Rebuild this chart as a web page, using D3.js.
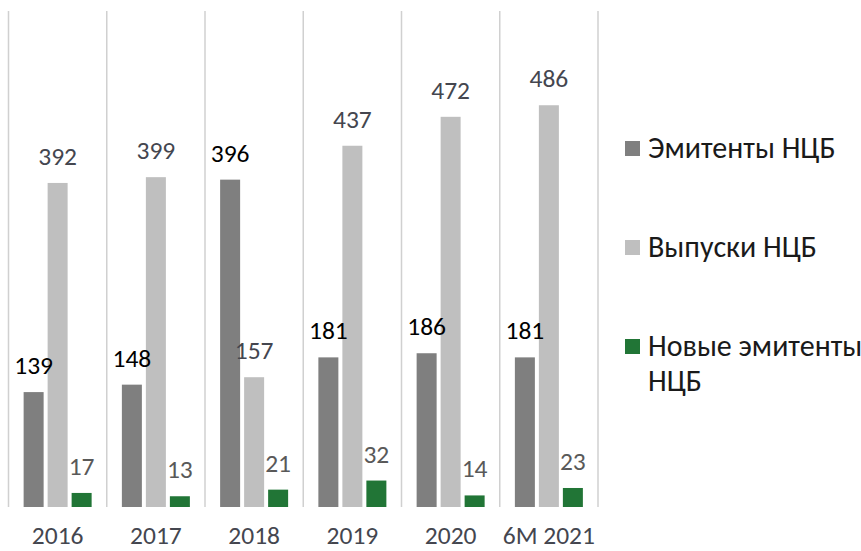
<!DOCTYPE html>
<html><head><meta charset="utf-8">
<script src="https://cdn.jsdelivr.net/npm/d3@7"></script>
<style>body{margin:0;background:#fff}svg{display:block}</style>
</head><body>
<svg id="c" width="861" height="551"></svg>
<script>
const categories = ["2016","2017","2018","2019","2020","6М 2021"];
const seriesNames = ["Эмитенты НЦБ","Выпуски НЦБ","Новые эмитенты НЦБ"];
const emitents = [139,148,396,181,186,181];
const issues = [392,399,157,437,472,486];
const newEmitents = [17,13,21,32,14,23];
const seriesValues = [emitents, issues, newEmitents];
const colors = ["#7f7f7f","#bfbfbf","#217536"];
const labelColors = ["#000000","#44464f","#595959"];

const svg = d3.select("#c");
const FONT = "Carlito, Calibri, Lato, sans-serif";
const x = d3.scaleBand().domain(categories).range([8.5, 598]).paddingInner(0).paddingOuter(0);
const xs = d3.scaleBand().domain([0,1,2]).range([0, 68]).paddingInner(4/24);
const y = d3.scaleLinear().domain([0, 600]).range([507, 11]);

// gridlines at band boundaries
const bounds = categories.map(c => x(c)).concat([x(categories[categories.length-1]) + x.bandwidth()]);
svg.append("g").selectAll("line").data(bounds).join("line")
  .attr("x1", d => d).attr("x2", d => d).attr("y1", y(600)).attr("y2", y(0))
  .attr("stroke", "#d0d0d0").attr("stroke-width", 1.5);

const groupOffset = (x.bandwidth() - 68) / 2;
const barG = svg.append("g");
const labG = svg.append("g");
seriesValues.forEach((vals, si) => {
  barG.append("g").selectAll("rect").data(vals).join("rect")
    .attr("x", (d,i) => x(categories[i]) + groupOffset + xs(si))
    .attr("width", xs.bandwidth())
    .attr("y", d => y(d))
    .attr("height", d => y(0) - y(d))
    .attr("fill", colors[si]);
  labG.append("g").selectAll("text").data(vals).join("text")
    .attr("x", (d,i) => x(categories[i]) + groupOffset + xs(si) + xs.bandwidth()/2)
    .attr("y", d => y(d) - 18)
    .attr("text-anchor", "middle")
    .attr("font-family", FONT).attr("font-size", 25.5)
    .attr("fill", labelColors[si])
    .text(d => d);
});

// x axis
const xAxis = svg.append("g").attr("transform", `translate(0,${y(0)})`)
  .call(d3.axisBottom(x).tickSize(0));
xAxis.select(".domain").remove();
xAxis.selectAll("text").attr("y", 37).attr("dy", 0)
  .attr("font-family", FONT).attr("font-size", 25.5).attr("fill", "#44464f");

// legend
const legendY = [158, 257, 356];
const lg = svg.append("g");
seriesNames.forEach((name, i) => {
  lg.append("rect").attr("x", 625).attr("y", legendY[i] - 17).attr("width", 15).attr("height", 15).attr("fill", colors[i]);
});
const legendLines = [["Эмитенты НЦБ"],["Выпуски НЦБ"],["Новые эмитенты","НЦБ"]];
legendLines.forEach((lines, i) => {
  const t = lg.append("text").attr("x", 648).attr("y", legendY[i])
    .attr("font-family", FONT).attr("font-size", 30).attr("fill", "#1a1a1a");
  lines.forEach((l, j) => t.append("tspan").attr("x", 648).attr("dy", j ? 35 : 0).text(l));
});
</script>
</body></html>
